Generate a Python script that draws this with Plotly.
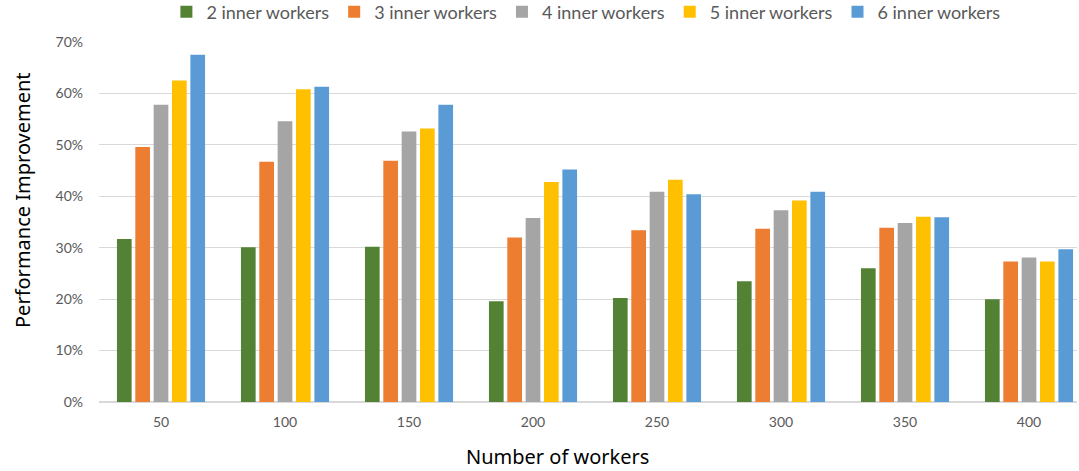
import plotly.graph_objects as go

categories = ["50", "100", "150", "200", "250", "300", "350", "400"]
series_names = ["2 inner workers", "3 inner workers", "4 inner workers", "5 inner workers", "6 inner workers"]
w2 = [0.317, 0.301, 0.302, 0.196, 0.202, 0.235, 0.260, 0.200]
w3 = [0.496, 0.467, 0.469, 0.320, 0.334, 0.337, 0.339, 0.273]
w4 = [0.578, 0.546, 0.526, 0.358, 0.409, 0.373, 0.348, 0.281]
w5 = [0.625, 0.608, 0.532, 0.428, 0.432, 0.392, 0.360, 0.273]
w6 = [0.675, 0.613, 0.578, 0.452, 0.404, 0.409, 0.359, 0.297]
colors = ["#548235", "#ED7D31", "#A5A5A5", "#FFC000", "#5B9BD5"]

fig = go.Figure()
for name, vals, c in zip(series_names, [w2, w3, w4, w5, w6], colors):
    fig.add_trace(go.Bar(x=categories, y=vals, name=name, marker=dict(color=c, line=dict(width=0))))

tickfont = dict(family="Lato, Open Sans, sans-serif", size=14, color="#595959")
titlefont = dict(family="Noto Sans, sans-serif", size=20, color="black")
fig.update_layout(
    width=1079, height=471,
    margin=dict(l=99, r=2, t=42, b=69, autoexpand=False),
    paper_bgcolor="white", plot_bgcolor="white",
    barmode="group", bargap=0.26, bargroupgap=0.2,
    legend=dict(orientation="h", x=0.543, xanchor="center", xref="container",
                y=1 + (42 - 12) / 360, yanchor="middle", yref="paper",
                font=dict(family="Lato, Open Sans, sans-serif", size=18, color="#595959"),
                itemwidth=30, traceorder="normal", itemclick=False),
    xaxis=dict(range=[-0.5, 7.387], tickfont=tickfont, showgrid=False, showline=True,
               linecolor="#d9d9d9", linewidth=1, ticks="", ticklabelstandoff=7),
    yaxis=dict(range=[0, 0.7], dtick=0.1, tickformat=".0%", tickfont=tickfont,
               showgrid=True, gridcolor="#d9d9d9", zeroline=True, zerolinecolor="#d9d9d9",
               ticks="", ticklabelstandoff=15),
    annotations=[
        dict(text="Number of workers", xref="paper", yref="paper", x=(557 - 99) / 978, y=-(457 - 402) / 360,
             xanchor="center", yanchor="middle", showarrow=False, font=titlefont),
        dict(text="Performance Improvement", xref="paper", yref="paper", x=-(99 - 22) / 978, y=(402 - 200) / 360,
             xanchor="center", yanchor="middle", textangle=-90, showarrow=False, font=titlefont),
    ],
)
fig.write_html("out.html", config={"displayModeBar": False},
               post_script="document.body.style.margin='0';document.body.style.padding='0';")
